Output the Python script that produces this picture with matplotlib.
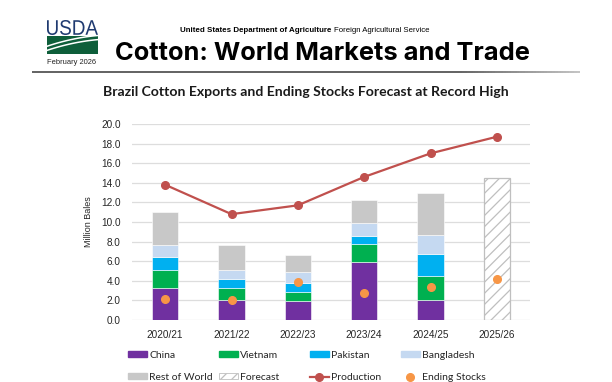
import matplotlib
matplotlib.use("Agg")
import matplotlib.pyplot as plt
import numpy as np
from matplotlib.collections import LineCollection
from matplotlib.patches import Patch, PathPatch
from matplotlib.lines import Line2D
from matplotlib.textpath import TextPath
from matplotlib.font_manager import FontProperties
from matplotlib.transforms import Affine2D

# data (million bales)
seasons = ["2020/21", "2021/22", "2022/23", "2023/24", "2024/25", "2025/26"]
china = [3.23, 2.0, 1.94, 5.95, 2.04]
vietnam = [1.9, 1.3, 0.95, 1.84, 2.48]
pakistan = [1.3, 0.88, 0.85, 0.78, 2.21]
bangladesh = [1.25, 0.95, 1.12, 1.29, 1.94]
rest_of_world = [3.32, 2.52, 1.74, 2.38, 4.29]
forecast_total = 14.5
production = [13.8, 10.8, 11.7, 14.6, 17.0, 18.7]
ending_stocks = [2.1, 2.0, 3.9, 2.8, 3.4, 4.2]

c_china = "#7030A0"
c_vietnam = "#00B050"
c_pakistan = "#00B0F0"
c_bangla = "#C5D9F1"
c_row = "#C8C8C8"
c_prod = "#C0504D"
c_stocks = "#F79646"
hatch_col = "#BFBFBF"
plt.rcParams["hatch.color"] = hatch_col
plt.rcParams["hatch.linewidth"] = 0.9

W, H = 612, 382
fig = plt.figure(figsize=(W / 100, H / 100), dpi=100)

# ---- header ----
deco = fig.add_axes([0, 0, 1, 1])
deco.set_xlim(0, W)
deco.set_ylim(H, 0)
deco.axis("off")

# gray rule under the header, fading at the right end
xs = np.linspace(32, 580, 200)
pts = np.array([xs, np.full_like(xs, 72)]).T.reshape(-1, 1, 2)
segs = np.concatenate([pts[:-1], pts[1:]], axis=1)
fade = np.clip((580 - xs[:-1]) / 120, 0, 1)
cols = [(0.3, 0.3, 0.3, 0.35 + 0.6 * f) for f in fade]
deco.add_collection(LineCollection(segs, colors=cols, linewidths=1.3))

# USDA logo: condensed letters squeezed into the logo box
tp = TextPath((0, 0), "USDA", size=10, prop=FontProperties(family="Liberation Sans"))
ext = tp.get_extents()
sx = (98 - 47) / ext.width
sy = (35 - 20) / ext.height
tr = Affine2D().translate(-ext.x0, -ext.y0).scale(sx, -sy).translate(47, 35)
deco.add_patch(PathPatch(tr.transform_path(tp), color="#1F3A70", lw=0))

logo = fig.add_axes([47 / W, 1 - 54 / H, 51 / W, 18 / H])
logo.set_xlim(0, 1)
logo.set_ylim(0, 1)
logo.axis("off")
lx = np.linspace(0, 1, 60)
logo.fill_between(lx, 0, 1, color="#0E5E3A", lw=0)
for off in (0.55, 0.78):
    curve = off + 0.25 * lx - 0.35 * (1 - lx) ** 2
    logo.plot(lx, curve, color="white", lw=1.1)
fig.text(72 / W, 1 - 62 / H, "February 2026", fontsize=5.4, color="#222222",
         family="Liberation Sans", ha="center", va="center")

fig.text(180 / W, 1 - 30 / H, "United States Department of Agriculture",
         fontsize=5.7, fontweight="bold", family="Liberation Sans",
         va="center", ha="left")
fig.text(334 / W, 1 - 30 / H, "Foreign Agricultural Service",
         fontsize=5.6, family="Liberation Sans", va="center", ha="left")
fig.text(115 / W, 1 - 53 / H, "Cotton: World Markets and Trade",
         fontsize=18.3, fontweight="bold", family="Inter",
         va="center", ha="left")

fig.text(306 / W, 1 - 92 / H,
         "Brazil Cotton Exports and Ending Stocks Forecast at Record High",
         fontsize=10.1, fontweight="bold", family="Lato", ha="center",
         va="center", color="#1a1a1a")

# ---- chart ----
ax = fig.add_axes([132 / W, 62 / H, 398 / W, 196 / H])
x = np.arange(len(seasons))
hist = x[:len(china)]
bw = 0.4
bottom = np.zeros(len(china))
for vals, col in [(china, c_china), (vietnam, c_vietnam),
                  (pakistan, c_pakistan), (bangladesh, c_bangla),
                  (rest_of_world, c_row)]:
    ax.bar(hist, vals, bw, bottom=bottom, color=col, edgecolor="white",
           linewidth=0.4, zorder=2)
    bottom += np.array(vals)
ax.bar(x[-1], forecast_total, bw, color="white", edgecolor=hatch_col,
       hatch="///", linewidth=0.9, zorder=2)

ax.plot(x, production, color=c_prod, lw=1.6, marker="o", ms=5.5, zorder=3)
ax.plot(x, ending_stocks, ls="none", marker="o", ms=5.5, color=c_stocks,
        zorder=4)

ax.set_xlim(-0.5, 5.5)
ax.set_ylim(0, 20)
yt = np.arange(0, 20.1, 2)
ax.set_yticks(yt)
ax.set_yticklabels([f"{v:.1f}" for v in yt])
ax.set_xticks(x)
ax.set_xticklabels(seasons)
for lab in ax.get_xticklabels() + ax.get_yticklabels():
    lab.set_family("Liberation Sans")
    lab.set_fontsize(7.2)
    lab.set_color("#262626")
ax.tick_params(length=0)
ax.tick_params(axis="y", pad=8)
ax.tick_params(axis="x", pad=7)
ax.grid(axis="y", color="#DDDDDD", lw=0.9)
ax.set_axisbelow(True)
for s in ax.spines.values():
    s.set_visible(False)
ax.set_ylabel("Million Bales", fontsize=6.5, family="Liberation Sans",
              color="#262626", labelpad=6)

# ---- legend: four columns of two entries ----
entries = [
    [(Patch(color=c_china), "China"), (Patch(color=c_row), "Rest of World")],
    [(Patch(color=c_vietnam), "Vietnam"),
     (Patch(facecolor="white", edgecolor=hatch_col, hatch="///", lw=0.6), "Forecast")],
    [(Patch(color=c_pakistan), "Pakistan"),
     (Line2D([], [], color=c_prod, lw=1.6, marker="o", ms=5.5), "Production")],
    [(Patch(color=c_bangla), "Bangladesh"),
     (Line2D([], [], ls="none", marker="o", ms=5.5, color=c_stocks), "Ending Stocks")],
]
col_x = [128, 219, 310, 401]
for cx, ent in zip(col_x, entries):
    leg = fig.legend([e[0] for e in ent], [e[1] for e in ent],
                     loc="upper left", bbox_to_anchor=(cx / W, 1 - 351 / H),
                     frameon=False, borderpad=0, borderaxespad=0,
                     handlelength=1.8, handleheight=0.55, handletextpad=0.25,
                     labelspacing=1.25,
                     prop={"family": "Lato", "size": 7.5})
    for t in leg.get_texts():
        t.set_color("#262626")

fig.savefig("out.png", dpi=100)
